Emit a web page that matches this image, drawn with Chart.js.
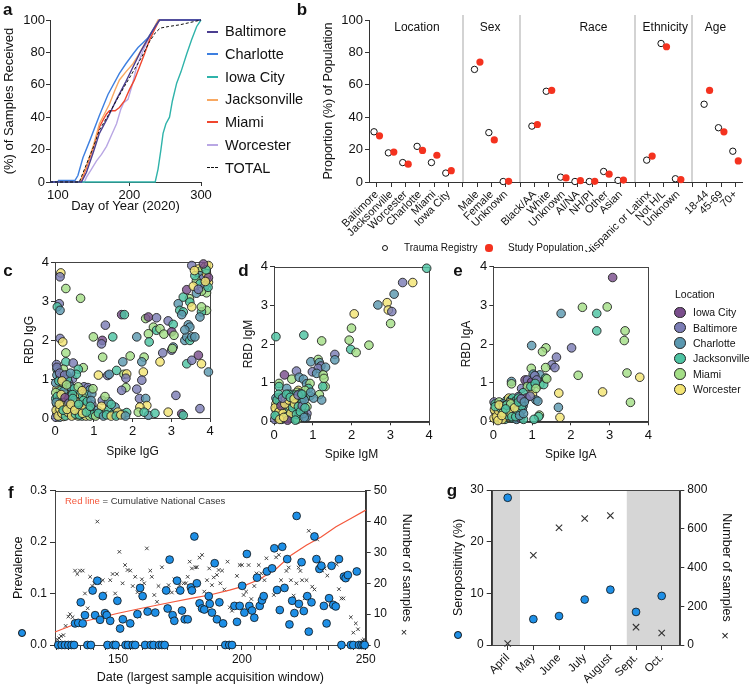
<!DOCTYPE html>
<html>
<head>
<meta charset="utf-8">
<script src="https://cdn.jsdelivr.net/npm/chart.js@4.4.1/dist/chart.umd.min.js"></script>
<style>
  body { margin: 0; background: #fff; }
  #fig { position: relative; width: 751px; height: 689px; overflow: hidden;
         font-family: "Liberation Sans", Arial, Helvetica, sans-serif; color: #111; }
  #fig canvas { position: absolute; left: 0; top: 0; }
  .t { position: absolute; white-space: nowrap; line-height: 1; }
  .mk { position: absolute; box-sizing: border-box; border-radius: 50%; }
  .ln { position: absolute; height: 0; }
</style>
</head>
<body>
<div id="fig">
  <canvas id="chartA" width="751" height="689"></canvas>
  <canvas id="chartB" width="751" height="689"></canvas>
  <canvas id="chartC" width="751" height="689"></canvas>
  <canvas id="chartD" width="751" height="689"></canvas>
  <canvas id="chartE" width="751" height="689"></canvas>
  <canvas id="chartF" width="751" height="689"></canvas>
  <canvas id="chartG" width="751" height="689"></canvas>
</div>
<script>
// ---------- data ----------

// a: cumulative % of samples received, [day of year, percent]
const cities = ['Baltimore', 'Charlotte', 'Iowa City', 'Jacksonville', 'Miami', 'Worcester', 'TOTAL'];
const cityColors = ['#4b3e90', '#3d7fe0', '#2fb3aa', '#f8a862', '#f0462e', '#b9a7e4', '#111111'];
const baltimoreCum = [[89,0],[133,0],[140,6],[150,19],[158,30],[170,40],[182,51],[195,62],[205,71],[215,80],[228,90],[236,96],[242,100],[300,100]];
const charlotteCum = [[89,0],[100,0],[101,1],[124,1],[128,4],[135,15],[145,26],[158,41],[170,54],[186,67],[195,73],[205,79],[212,83],[219,86],[226,89],[233,94],[242,100],[300,100]];
const iowaCityCum = [[89,0],[236,0],[240,8],[244,20],[247,30],[251,36],[256,40],[260,50],[266,61],[272,68],[280,79],[287,88],[294,96],[300,100]];
const jacksonvilleCum = [[89,0],[131,0],[140,10],[150,23],[158,36],[165,42],[172,48],[180,57],[186,63],[195,68],[205,73],[212,78],[219,83.5],[226,89],[233,94],[240,100],[270,100]];
const miamiCum = [[89,0],[132,0],[140,9],[150,22],[158,34],[164,39],[168,42],[172,44],[180,44],[186,46],[193,50],[200,57],[207,63],[214,71],[221,79],[228,87.6],[235,94],[242,100],[270,100]];
const worcesterCum = [[89,0],[137,0],[140,3],[147,8],[154,13],[161,17],[168,22],[175,29],[182,36],[188,45],[192,49],[198,51],[204,60],[210,71],[217,79],[224,86],[231,92],[238,98],[242,100],[300,100]];
const totalCum = [[89,0],[130,0],[140,11],[150,22],[158,32],[170,41],[182,50.5],[193,59],[205,68],[217,77],[228,86.6],[236,92],[243,95],[255,96],[270,97],[285,98.5],[300,100]];
const dayTicks = [100, 200, 300];
const pctTicks = [0, 20, 40, 60, 80, 100];

// b: demographics, trauma registry vs study population (%)
const bLabels = ['Baltimore','Jacksonville','Worcester','Charlotte','Miami','Iowa City','',
  'Male','Female','Unknown','',
  'Black/AA','White','Unknown','AI/NA','NH/PI','Other','Asian','',
  'Hispanic or Latinx','Not H/L','Unknown','',
  '18-44','45-69','70+'];
const traumaRegistry = [31,18,12,22,12,5.5,null, 69.5,30.5,0.3,null, 34.5,56,3,0.3,0.3,6.5,1,null, 13.5,85.5,2,null, 48,33.5,19];
const studyPopulation = [28.5,18.5,11,19.5,16.5,7,null, 74,26,0.4,null, 35.5,56.5,2.5,0.8,0.4,4.8,1.2,null, 16,83.5,1.5,null, 56.5,31,13];
const bGroups = ['Location', 'Sex', 'Race', 'Ethnicity', 'Age'];
const bGroupCentres = [2.8, 7.9, 15.1, 20.1, 23.6];
const bDividers = [6, 10, 18, 22];
const bPctTicks = [0, 20, 40, 60, 80, 100];

// c-e: spike vs RBD antibody levels, [spike, rbd, location index]
const locations = ['Iowa City', 'Baltimore', 'Charlotte', 'Jacksonville', 'Miami', 'Worcester'];
const locationColors = ['#7a4e8c', '#7b7db5', '#5b98b0', '#4dc3a2', '#a3de86', '#f3e473'];
const igTicks = [0, 1, 2, 3, 4];
const spikeRbdIgG = [
  [0.15,3.72,5],[0.13,3.62,1],[0.28,3.32,4],[0.11,2.93,1],[0.06,2.85,3],[0.13,2.76,2],[0.66,3.07,4],[0.13,2.04,1],[0.2,1.95,5],
  [0.28,1.67,4],[0.28,1.44,3],[0.47,1.41,1],[0.73,1.29,4],[0.04,1.37,1],[0.99,2.08,4],[1.22,1.99,0],[1.2,1.9,1],[1.3,2.38,1],
  [1.49,2.08,3],[1.23,1.56,4],[1.36,1.09,1],[1.4,1.12,2],[1.12,1.1,5],[1.59,1.22,3],
  [1.72,2.65,0],[1.79,2.65,3],[1.75,1.44,2],[1.78,1.12,4],[1.85,1.13,5],[1.83,1.02,1],[1.94,1.59,4],[1.83,0.78,4],[1.72,0.71,1],
  [2.11,2.08,2],[2.3,1.56,4],[2.24,1.44,2],[2.28,1.18,5],[2.24,0.97,1],[2.11,0.74,1],[2.18,0.5,1],[2.34,0.5,2],[2.37,0.32,5],
  [2.19,0.28,5],[2.15,0.15,4],[2.41,0.07,2],[2.3,0.15,3],[2.58,0.12,3],
  [2.34,2.55,4],[2.41,2.59,0],[2.54,2.33,4],[2.62,2.25,3],[2.41,2.16,4],[2.43,1.95,3],[2.62,2.57,1],[2.71,2.29,4],[2.81,2.15,4],
  [2.78,1.67,1],[2.92,2.49,1],[3.05,2.4,3],[3.01,2.21,0],[3.07,2.12,4],[3.01,1.74,1],[3.05,1.82,2],[3.03,1.78,4],[2.71,1.44,5],
  [2.92,0.15,5],[3.12,0.58,1],
  [3.18,2.93,2],[3.22,2.76,3],[3.31,2.72,3],[3.27,2.65,2],[3.35,1.99,2],[3.4,2.08,2],[3.48,1.99,3],[3.44,2.39,2],[3.48,2.33,2],
  [3.35,2.26,2],[3.53,2.08,2],[3.4,1.39,3],[3.53,1.48,1],[3.61,2.08,2],[3.47,3.06,4],[3.31,3.1,3],[3.48,2.97,3],[3.53,2.85,5],
  [3.7,1.61,0],[3.78,1.39,5],[3.74,0.24,1],[3.96,1.18,2],[3.91,2.76,4],[3.78,2.72,3],[3.74,2.59,2],[3.78,2.85,4],[3.91,3.21,4],
  [3.53,3.91,1],[3.4,3.29,0],[3.27,0.11,0],[3.31,0.07,3],
  [3.7,3.82,5],[3.78,3.78,4],[3.87,3.87,5],[3.96,3.91,5],[3.74,3.65,2],[3.82,3.57,1],[3.91,3.7,5],[3.65,3.52,4],[3.74,3.44,3],
  [3.96,3.48,5],[3.87,3.38,1],[3.78,3.25,4],[3.65,3.2,2],[3.57,3.38,5],[3.61,3.65,3],[3.96,3.6,0],[3.9,3.8,3],[3.83,3.95,0],
  [3.7,3.3,1],[3.95,3.35,3],[3.6,3.78,5],[3.88,3.5,5],
  [1.03,0.1,5],[1.16,0.1,5],[1.29,0.14,4],[1.38,0.2,3],[1.5,0.1,3],[1.63,0.1,1],[1.76,0.1,4],[1.85,0.14,3],[1.22,0.45,1],
  [1.38,0.42,2],[1.29,0.55,4],[1.55,0.28,2],[1.1,0.2,2],[0.95,0.35,1],[1.2,0.3,5],[1.62,0.15,5],[1.45,0.35,3],
  [0.05,1.25,3],[0.1,1.2,2],[0.22,1.25,4],[0.05,1.1,2],[0.15,1.05,1],[0.3,1.1,3],[0.45,1.0,1],[0.6,1.25,3],[0.55,1.12,3],
  [0.75,0.8,1],[0.85,0.78,1],[0.9,0.72,2],[0.8,0.6,3],[0.95,0.62,2],[0.98,0.75,4],[0.7,0.55,4],[0.6,0.6,3],[0.5,0.55,5],
  [0.4,0.6,5],[0.35,0.7,3],[0.25,0.8,5],[0.15,0.85,4],[0.05,0.75,5],[0.1,0.6,5],[0.2,0.5,3],[0.3,0.45,5],[0.45,0.4,3],
  [0.55,0.35,5],[0.65,0.3,4],[0.75,0.35,3],[0.85,0.3,1],[0.95,0.15,2],[0.85,0.12,5],[0.75,0.15,5],[0.65,0.12,3],[0.55,0.15,5],
  [0.45,0.18,5],[0.35,0.2,5],[0.25,0.25,3],[0.15,0.3,5],[0.05,0.35,5],[0.05,0.1,5],[0.1,0.15,3],[0.2,0.1,0],[0.3,0.08,5],
  [0.4,0.1,3],[0.5,0.08,5],[0.6,0.05,4],[0.7,0.05,3],[0.8,0.05,5],[0.9,0.05,4],[0.02,0.02,1],[0.12,0.02,2],[0.22,0.04,5],
  [0.32,0.3,3],[0.42,0.28,5],[0.52,0.25,3],[0.62,0.22,5],[0.02,0.5,3],[0.08,0.45,5],[0.18,0.4,5],[0.28,0.35,3],[0.38,0.45,5],
  [0.02,0.9,2],[0.1,0.95,3],[0.2,1.0,1],[0.35,0.9,1],[0.4,0.8,2],[0.5,0.75,3],[0.6,0.8,4],[0.7,0.7,5],[0.15,0.7,3],
  [0.28,0.6,5],[0.08,0.25,3],[0.35,0.55,0],[0.12,0.55,1],[0.25,0.15,5],[0.45,0.6,3],[0.02,0.65,4],[0.22,0.68,2],[0.5,0.45,1],
  [0.32,1.0,3],
  [0.03,0.2,5],[0.08,0.05,5],[0.13,0.22,5],[0.18,0.12,5],[0.23,0.32,5],[0.27,0.05,3],[0.33,0.15,5],[0.38,0.28,3],[0.43,0.05,5],
  [0.48,0.3,5],[0.53,0.1,3],[0.58,0.4,5],[0.63,0.08,3],[0.68,0.2,5],[0.73,0.45,3],[0.78,0.25,5],[0.83,0.42,3],[0.88,0.2,4],
  [0.93,0.45,2],[0.97,0.08,3],[0.06,0.55,3],[0.16,0.6,5],[0.26,0.52,0],[0.36,0.38,1],[0.46,0.5,3],[0.03,0.4,2],[0.11,0.35,5],
  [0.21,0.2,3],[0.31,0.22,5],[0.41,0.35,5],[0.51,0.2,5],[0.61,0.35,3],[0.71,0.12,5],[0.81,0.15,3],[0.91,0.3,3],[1.05,0.05,4],
  [1.12,0.12,3],[1.25,0.05,2],[1.33,0.08,3],[1.45,0.05,5],[1.58,0.05,3],[1.7,0.08,5],[1.82,0.05,2],[0.05,1.3,1],[0.12,1.15,1],
  [0.25,1.1,1],[0.4,1.15,2],[0.18,0.95,5],[0.3,0.85,4]
];
const spikeRbdIgM = [
  [3.94,3.96,3],[3.32,3.59,1],[3.58,3.59,5],[3.1,3.29,2],[2.68,3.01,2],[2.92,3.07,5],[2.95,2.88,5],[3.04,2.84,1],[3.01,2.53,4],
  [2.07,2.78,5],[2.0,2.41,4],[1.94,2.1,4],[1.98,1.86,3],[2.12,1.78,4],[2.45,1.97,4],[0.05,2.19,3],[0.77,2.23,3],[1.23,2.08,4],
  [1.57,1.73,1],[1.57,1.59,2],[0.95,1.54,2],[1.14,1.6,4],[1.17,1.52,2],[1.21,1.43,1],[1.14,1.37,1],[1.33,1.4,2],[0.99,1.28,1],
  [1.1,1.24,2],[1.27,1.2,4],[1.29,1.11,4],[1.32,0.9,4],[1.26,0.9,3],[1.17,0.69,4],[1.23,0.55,2],[0.93,0.66,3],[1.02,0.6,2],
  [0.27,1.2,0],[0.58,1.3,1],[0.46,1.09,4],[0.65,1.14,2],[0.76,1.09,2],[0.84,0.97,2],[0.93,0.98,4],[0.89,0.85,3],[0.13,0.98,4],
  [0.13,0.9,3],[0.33,0.85,2],[0.63,0.8,5],[0.85,0.38,4],[0.85,0.2,1],[0.83,0.1,2],[0.75,0.6,2],[0.8,0.8,4],[0.95,0.75,2],
  [0.05,0.6,2],[0.1,0.5,3],[0.15,0.62,1],[0.2,0.45,5],[0.25,0.55,3],[0.3,0.4,5],[0.35,0.6,2],[0.4,0.5,5],[0.45,0.65,3],
  [0.5,0.7,3],[0.55,0.55,5],[0.6,0.75,4],[0.65,0.45,2],[0.7,0.6,1],[0.05,0.3,5],[0.1,0.2,3],[0.15,0.35,5],[0.2,0.15,0],
  [0.25,0.3,5],[0.3,0.2,3],[0.35,0.35,5],[0.4,0.25,3],[0.45,0.3,5],[0.5,0.4,5],[0.55,0.2,4],[0.6,0.3,3],[0.65,0.15,2],
  [0.7,0.35,3],[0.75,0.2,2],[0.02,0.05,1],[0.1,0.08,5],[0.2,0.05,3],[0.3,0.08,5],[0.4,0.1,5],[0.5,0.12,3],[0.6,0.05,4],
  [0.05,0.45,5],[0.15,0.5,3],[0.25,0.42,5],[0.35,0.48,3],[0.45,0.45,1],[0.55,0.68,3],[0.62,0.6,3],[0.68,0.72,2],[0.12,0.4,4],
  [0.22,0.25,5],[0.32,0.3,3],[0.42,0.38,5],[0.28,0.65,2],[0.38,0.7,3],[0.48,0.52,5],[0.58,0.42,0],[0.08,0.15,3],[0.18,0.28,5],
  [0.3,0.55,5],[0.5,0.3,3],[0.65,0.55,3],[0.72,0.48,3],
  [0.03,0.35,5],[0.08,0.55,3],[0.13,0.25,5],[0.18,0.4,0],[0.23,0.2,5],[0.28,0.45,5],[0.33,0.12,3],[0.38,0.55,5],[0.43,0.2,5],
  [0.48,0.35,3],[0.53,0.45,5],[0.58,0.18,3],[0.63,0.38,3],[0.68,0.25,3],[0.73,0.4,1],[0.78,0.55,2],[0.03,0.15,3],[0.12,0.7,3],
  [0.22,0.6,1],[0.32,0.7,3],[0.42,0.62,3],[0.52,0.58,5],[0.62,0.68,1],[0.72,0.7,3],[0.8,0.35,3],[0.78,0.1,2],[0.15,0.05,5],
  [0.35,0.03,0],[0.55,0.03,3],[0.25,0.1,5]
];
const spikeRbdIgA = [
  [3.08,3.72,0],[2.3,2.95,4],[2.94,2.96,4],[1.75,2.79,2],[2.67,2.79,3],[2.67,2.34,3],[3.4,2.34,4],[3.38,2.09,4],[0.99,1.96,2],
  [2.02,1.9,1],[1.36,1.9,4],[1.27,1.8,4],[1.63,1.66,1],[1.51,1.46,1],[1.59,1.39,1],[1.35,1.39,4],[0.98,1.37,4],[2.19,1.19,4],
  [3.45,1.25,4],[3.78,1.14,5],[2.82,0.76,5],[1.69,0.73,5],[3.54,0.49,4],[1.68,0.36,2],[1.72,0.1,5],[1.19,0.16,4],[1.17,0.12,3],
  [1.05,0.05,3],[1.01,0.71,5],[1.1,0.55,2],[1.15,0.52,2],[1.2,1.2,2],[1.2,0.95,4],[1.3,0.95,3],[1.35,1.12,3],[1.38,1.1,4],
  [0.82,1.07,0],[0.88,1.07,1],[0.99,1.02,0],[1.03,1.22,2],[1.07,1.18,1],[1.12,1.07,1],[0.73,0.85,1],[0.88,0.9,4],[0.97,0.9,3],
  [1.08,0.98,3],[1.1,0.85,4],[0.77,0.74,3],[0.65,0.64,1],[0.73,0.57,2],[0.77,0.4,2],[0.58,0.38,3],[0.47,1.03,2],[0.47,0.97,4],
  [0.85,0.6,0],[0.95,0.65,1],
  [0.02,0.5,1],[0.05,0.45,3],[0.1,0.4,4],[0.15,0.35,3],[0.2,0.42,5],[0.25,0.3,3],[0.3,0.38,5],[0.35,0.55,3],[0.4,0.6,5],
  [0.45,0.55,3],[0.5,0.6,3],[0.55,0.5,1],[0.6,0.55,3],[0.65,0.6,3],[0.7,0.5,2],[0.05,0.25,5],[0.1,0.2,3],[0.15,0.15,5],
  [0.2,0.25,5],[0.25,0.15,3],[0.3,0.2,5],[0.35,0.3,3],[0.4,0.25,4],[0.45,0.35,3],[0.5,0.3,5],[0.55,0.25,3],[0.6,0.2,2],
  [0.65,0.35,3],[0.7,0.25,3],[0.75,0.3,2],[0.02,0.08,5],[0.1,0.05,3],[0.2,0.08,5],[0.3,0.05,3],[0.4,0.1,5],[0.5,0.08,3],
  [0.6,0.05,2],[0.7,0.08,0],[0.78,0.05,3],[0.15,0.5,4],[0.25,0.45,2],[0.08,0.3,5],[0.18,0.2,1],[0.28,0.28,5],[0.38,0.42,3],
  [0.48,0.45,3],[0.58,0.4,3],[0.68,0.45,1],[0.12,0.12,5],[0.32,0.12,5],[0.42,0.48,5],
  [0.03,0.3,5],[0.08,0.12,5],[0.13,0.28,5],[0.18,0.35,3],[0.23,0.05,5],[0.28,0.4,5],[0.33,0.25,5],[0.38,0.15,3],[0.43,0.22,5],
  [0.48,0.12,3],[0.53,0.4,3],[0.58,0.12,3],[0.63,0.28,3],[0.68,0.15,2],[0.73,0.4,3],[0.78,0.2,2],[0.05,0.38,3],[0.15,0.42,5],
  [0.25,0.22,4],[0.35,0.42,3],[0.45,0.45,4],[0.55,0.35,5],[0.65,0.5,3],[0.72,0.58,1],[0.8,0.5,2],[0.12,0.02,5],[0.22,0.15,5],
  [0.32,0.32,3]
];

// f: daily prevalence [day, prevalence], samples [day, n], national cases (scaled to right axis)
const prevalence = [
  [125.8,0],[127.2,0],[128.5,0],[129.9,0],[131.2,0],[132.2,0],
  [132.6,0.042],[133.9,0.043],[134.9,0.083],[135.7,0.042],[136.6,0.058],[137.6,0],[139,0],
  [139.7,0.106],[140.7,0.058],[141.6,0.125],[142.7,0.049],[143.8,0.095],[144.7,0.062],[145.4,0.058],
  [145.7,0],[146.8,0.047],[148.1,0],[149,0],[149.7,0.086],[150.8,0.032],[151.9,0.05],
  [153,0],[154,0],[154.9,0.042],[155.9,0],[156.9,0],[157.8,0.06],[158.9,0.111],[159.9,0.095],
  [160.9,0],[161.9,0.065],[163.2,0],[164.3,0],[165,0.063],[166.6,0],[167.7,0],[168.8,0],
  [169.4,0.106],[170,0.071],[170.8,0.166],[172,0.058],[172.7,0.047],[173.8,0.125],[175.1,0.106],[175.8,0.067],
  [176.9,0.05],[178.1,0.05],[179.4,0.112],[179.8,0.106],[180.8,0.211],[181.8,0.12],[182.9,0.081],[183.9,0.071],
  [184.8,0.069],[186.6,0.095],[187,0.08],[187.9,0.063],[189,0.159],[189.9,0.05],[190.9,0.083],[192.4,0.042],
  [193.3,0],[194.9,0],[196,0],
  [197,0.076],[198,0.045],[199.1,0.076],[200.1,0.115],[201,0.063],[202,0.177],[203,0.076],[204.1,0.067],[205,0.053],
  [206.1,0.131],[207.2,0.076],[208.1,0.087],[208.8,0.095],[210.1,0.143],[212.2,0.149],[213.1,0.188],[214.2,0.107],
  [215.3,0.068],[216.3,0.191],[217.2,0.111],[218.3,0.167],[219.2,0.04],[220.3,0.086],[221.2,0.062],[222.1,0.251],
  [223,0.08],[224.1,0.161],[225,0.066],[226.4,0.095],[227,0.026],[228.1,0.083],[229.3,0.211],[230.1,0.167],
  [231.3,0.148],[232.1,0.154],[233.1,0.076],[234.2,0.042],[235.2,0.091],[236.2,0.154],[236.9,0.078],[237.9,0.075],
  [239.2,0.167],[240.2,0],[241.2,0.133],[241.9,0.13],[242.8,0.136],[244,0],[245,0],[246.4,0.143],[247.3,0],
  [248.3,0],[249.1,0],[249.6,0]
];
const samplesPerDay = [
  [125.4,1.8],[126.2,2.2],[126.9,2.9],[127.9,3.2],[128.8,6.2],[129.9,9.2],[130.6,10],[131.6,9],[132.6,24.1],[133.5,23],
  [134.6,24.1],[135.7,24.1],[136.6,16.7],[137.7,11.9],[138.7,22.1],[139.6,19.1],[140.4,20],[141.6,40],[142.7,20],[143.8,21],
  [144.7,16.7],[146.8,21],[147.8,23],[148.8,16.7],[149.5,23],[150.5,30.2],[151.8,20],[152.8,25.9],[153.8,24.3],[154.9,24.1],
  [155.9,19.1],[156.9,22.1],[157.8,17.1],[158.6,9.2],[159.6,21.3],[160.5,20],[161.6,31.3],[163,24.1],[163.6,22.1],[164.6,16.2],
  [165.7,14],[166.3,19.1],[167.7,25.2],[169.3,18.4],[170.4,19.4],[171.7,17],[172.7,21.3],[173.8,17.8],[174.8,19.4],[176.5,20],
  [177.4,20],[178.1,22.1],[178.9,27],[179.8,24.8],[181.2,25.2],[181.8,25.2],[182.9,28.3],[183.9,29.2],[184.8,17.3],[185.9,21],
  [186.8,24.8],[187.9,19.4],[188.6,21.9],[189.9,22.7],[190.6,24.3],
  [191.3,20],[192,24.1],[192.9,18],[194.2,27],[195.1,12.2],[196,11.1],[198,22.4],[199.1,25.9],[200,25.9],[200.7,16.2],
  [201.7,17.3],[202.7,25.9],[203.8,14.9],[205,19.1],[205.9,23.2],[206.8,25.9],[207.8,23.2],[209.1,21],[209.9,28.1],[211.5,24.3],
  [212.9,16.2],[213.8,28.4],[214.9,29.2],[215.8,21],[218,24],[218.9,25.1],[219.8,21],[220.9,16],[222,20],[222.9,25.1],
  [223.6,24],[224.3,21],[225.3,15.1],[226.1,21],[227,37],[228.4,18.9],[229.3,18],[230.4,34.2],[231.5,26.7],[232.5,24.1],
  [233.4,24.8],[234.5,22.5],[235.8,13.2],[236.5,13.2],[238.3,26.1],[239.2,18.1],[240.2,15.1],[241,15.1],[244,9],[245,4],
  [246,7],[246.9,5.1],[248,0.8],[248.7,1.4],[249.3,1.8],[250,0.8]
];
const nationalCases = [[124.5,4.2],[134,7.2],[150,10.3],[160,12],[170,13.6],[180,15.2],[187,16.2],[195,17.8],[200,18.9],
  [207,21.2],[214,24.8],[220,29.2],[226,32.3],[232,35],[238,38.3],[244,41],[250,43.7]];
const fDayTicks = [125,130,135,140,145,150,155,160,165,170,175,180,185,190,195,200,205,210,215,220,225,230,235,240,245,250];
const fDayLabels = [150, 200, 250];
const fPrevTicks = [0, 0.1, 0.2, 0.3];
const fSampleTicks = [0, 10, 20, 30, 40, 50];

// g: monthly seropositivity (%) and number of samples
const months = ['April', 'May', 'June', 'July', 'August', 'Sept.', 'Oct.'];
const seropositivity = [28.5, 5.0, 5.6, 8.8, 10.7, 6.4, 9.5];
const monthSamples = [8, 463, 605, 653, 668, 92, 62];
const shadedMonths = [[-0.7, 0.48], [4.64, 6.8]];
const gSeroTicks = [0, 10, 20, 30];
const gSampleTicks = [0, 200, 400, 600, 800];

// ---------- helpers ----------
const W = 751, H = 689;
const fig = document.getElementById('fig');
Chart.defaults.font.family = '"Liberation Sans", Arial, Helvetica, sans-serif';
Chart.defaults.color = '#111';
Chart.defaults.animation = false;
Chart.defaults.events = [];
Chart.defaults.plugins.legend.display = false;
Chart.defaults.plugins.tooltip.enabled = false;

// y is the vertical middle of capital letters
function addText(s, x, y, size, opts = {}) {
  const el = document.createElement('div');
  el.className = 't';
  el.innerHTML = s;
  el.style.fontSize = size + 'px';
  el.style.left = x + 'px';
  el.style.top = (y - 0.49 * size) + 'px';
  const shift = opts.align === 'center' ? '-50%' : opts.align === 'right' ? '-100%' : '0';
  el.style.transform = 'translateX(' + shift + ')';
  if (opts.bold) el.style.fontWeight = 'bold';
  if (opts.color) el.style.color = opts.color;
  fig.appendChild(el);
}
function addDot(x, y, r, fill, stroke, bw) {
  const el = document.createElement('div');
  el.className = 'mk';
  el.style.left = (x - r) + 'px';
  el.style.top = (y - r) + 'px';
  el.style.width = el.style.height = (2 * r) + 'px';
  el.style.background = fill;
  if (stroke) el.style.border = (bw || 1) + 'px solid ' + stroke;
  fig.appendChild(el);
}
function addLine(x1, x2, y, color, width, dashed) {
  const el = document.createElement('div');
  el.className = 'ln';
  el.style.left = x1 + 'px';
  el.style.width = (x2 - x1) + 'px';
  el.style.top = (y - width / 2) + 'px';
  el.style.borderTop = width + 'px ' + (dashed ? 'dashed ' : 'solid ') + color;
  fig.appendChild(el);
}
function withAlpha(hex, a) {
  const n = parseInt(hex.slice(1), 16);
  return 'rgba(' + (n >> 16) + ',' + ((n >> 8) & 255) + ',' + (n & 255) + ',' + a + ')';
}

function fixSize(px) {
  return scale => { if (scale.isHorizontal()) scale.height = px; else scale.width = px; };
}
function axis(o) {
  return {
    type: 'linear',
    position: o.position,
    min: o.min,
    max: o.max,
    border: { display: true, color: '#333', width: 1 },
    grid: { drawOnChartArea: false, drawTicks: true, tickLength: o.tick || 5, tickColor: '#333', tickWidth: 1 },
    ticks: Object.assign({ color: '#111', padding: o.pad == null ? 2 : o.pad, font: { size: o.font || 12 },
      autoSkip: false, maxRotation: 0, minRotation: 0 }, o.ticks || {}),
    title: o.title ? { display: true, text: o.title, padding: 0, color: '#111', font: { size: o.titleSize || 12.5 } }
                   : { display: false },
    afterBuildTicks: scale => { scale.ticks = o.values.map(v => ({ value: v })); },
    afterFit: fixSize(o.size)
  };
}
// widths of the axis boxes so that titles land where wanted
const leftSize = (plotLeft, titleX, fs) => plotLeft - titleX + fs * 0.6;
const rightSize = (plotRight, titleX, fs) => titleX + fs * 0.6 - plotRight;
const bottomSize = (plotBottom, titleY, fs) => titleY + fs * 0.6 - plotBottom;
function padding(plot, l, b, r) {
  return { left: plot[0] - l, top: plot[1], right: W - plot[2] - (r || 0), bottom: H - plot[3] - b };
}
const pairs = arr => arr.map(p => ({ x: p[0], y: p[1] }));

const framePlugin = {
  id: 'frame',
  beforeDatasetsDraw(chart) {
    const a = chart.chartArea, ctx = chart.ctx;
    ctx.save();
    ctx.strokeStyle = '#444';
    ctx.lineWidth = 1;
    ctx.strokeRect(Math.round(a.left) + 0.5, Math.round(a.top) + 0.5, Math.round(a.right - a.left), Math.round(a.bottom - a.top));
    ctx.restore();
  }
};

// ---------- a ----------
const plotA = [50, 20, 201, 182];
const aSeries = [totalCum, baltimoreCum, charlotteCum, iowaCityCum, jacksonvilleCum, miamiCum, worcesterCum];
const aIndex = [6, 0, 1, 2, 3, 4, 5];
new Chart(document.getElementById('chartA'), {
  type: 'line',
  data: {
    datasets: aSeries.map((s, k) => ({
      label: cities[aIndex[k]],
      data: pairs(s),
      borderColor: cityColors[aIndex[k]],
      borderWidth: aIndex[k] === 6 ? 1 : 1.4,
      borderDash: aIndex[k] === 6 ? [3, 2] : [],
      pointRadius: 0,
      tension: 0,
      clip: false
    }))
  },
  options: {
    responsive: false,
    layout: { padding: padding(plotA, leftSize(50, 9, 13), bottomSize(182, 206, 13)) },
    scales: {
      x: axis({ position: 'bottom', min: 89, max: 300, values: dayTicks, size: bottomSize(182, 206, 13),
                title: 'Day of Year (2020)', titleSize: 13, font: 13, tick: 4 }),
      y: axis({ position: 'left', min: 0, max: 100, values: pctTicks, size: leftSize(50, 9, 13),
                title: '(%) of Samples Received', titleSize: 13, font: 13, tick: 4, pad: 1 })
    }
  }
});
cities.forEach((c, i) => {
  const y = 31.5 + 22.7 * i;
  addLine(207, 218, y, cityColors[i], i === 6 ? 1 : 2, i === 6);
  addText(c, 225, y, 14.5);
});

// ---------- b ----------
const plotB = [369, 20, 742, 182];
const bGroupPlugin = {
  id: 'bGroups',
  beforeDraw(chart) {
    const x = chart.scales.x, a = chart.chartArea, ctx = chart.ctx;
    ctx.save();
    ctx.strokeStyle = '#c4c4c4';
    ctx.lineWidth = 1.5;
    bDividers.forEach(d => {
      const px = Math.round(x.getPixelForValue(d));
      ctx.beginPath();
      ctx.moveTo(px, a.top - 5);
      ctx.lineTo(px, a.bottom);
      ctx.stroke();
    });
    ctx.fillStyle = '#111';
    ctx.font = '12px "Liberation Sans", Arial, sans-serif';
    ctx.textAlign = 'center';
    ctx.textBaseline = 'middle';
    bGroups.forEach((g, i) => ctx.fillText(g, x.getPixelForValue(bGroupCentres[i]), a.top + 7.5));
    ctx.restore();
  }
};
const toSlots = (vals, off) => vals.map((v, i) => v == null ? null : { x: i + off, y: v }).filter(Boolean);
new Chart(document.getElementById('chartB'), {
  type: 'scatter',
  data: {
    datasets: [
      { label: 'Study Population', data: toSlots(studyPopulation, 0.19), pointRadius: 3.6,
        backgroundColor: '#f4321f', borderWidth: 0, clip: false },
      { label: 'Trauma Registry', data: toSlots(traumaRegistry, -0.19), pointRadius: 3.2,
        backgroundColor: '#ffffff', borderColor: '#111', borderWidth: 1, clip: false }
    ]
  },
  options: {
    responsive: false,
    layout: { padding: padding(plotB, leftSize(369, 329, 12.5), 70) },
    scales: {
      x: axis({ position: 'bottom', min: -0.54, max: 25.45, values: bLabels.map((_, i) => i), size: 70,
                font: 11, tick: 5, pad: 1,
                ticks: { minRotation: 45, maxRotation: 45, callback: v => bLabels[v] } }),
      y: axis({ position: 'left', min: 0, max: 100, values: bPctTicks, size: leftSize(369, 329, 12.5),
                title: 'Proportion (%) of Population', titleSize: 12.5, font: 13, tick: 4, pad: 2 })
    }
  },
  plugins: [bGroupPlugin]
});
addDot(385, 248, 3.2, '#fff', '#111', 1);
addText('Trauma Registry', 404, 248, 10);
addDot(489, 248, 3.6, '#f4321f');
addText('Study Population', 508, 248, 10);

// ---------- c, d, e ----------
function igChart(id, plot, points, xTitle, yTitle, titleX, titleY) {
  new Chart(document.getElementById(id), {
    type: 'scatter',
    data: {
      datasets: [{
        data: points.map(p => ({ x: p[0], y: p[1], loc: p[2] })),
        pointRadius: 4.3,
        backgroundColor: ctx => withAlpha(locationColors[ctx.raw ? ctx.raw.loc : 0], 0.82),
        borderColor: '#222',
        borderWidth: 0.9,
        clip: false
      }]
    },
    options: {
      responsive: false,
      layout: { padding: padding(plot, leftSize(plot[0], titleX, 12), bottomSize(plot[3], titleY, 12)) },
      scales: {
        x: axis({ position: 'bottom', min: 0, max: 4, values: igTicks, size: bottomSize(plot[3], titleY, 12),
                  title: xTitle, titleSize: 12, font: 13, tick: 4, pad: 2 }),
        y: axis({ position: 'left', min: 0, max: 4, values: igTicks, size: leftSize(plot[0], titleX, 12),
                  title: yTitle, titleSize: 12, font: 13, tick: 4, pad: 2 })
      }
    },
    plugins: [framePlugin]
  });
}
igChart('chartC', [55, 262, 210, 418], spikeRbdIgG, 'Spike IgG', 'RBD IgG', 30, 452);
igChart('chartD', [274, 266.7, 429, 421.3], spikeRbdIgM, 'Spike IgM', 'RBD IgM', 249, 455);
igChart('chartE', [493.3, 266.7, 648.3, 421.3], spikeRbdIgA, 'Spike IgA', 'RBD IgA', 466.5, 455);
addText('Location', 675, 294, 10.5);
locations.forEach((l, i) => {
  const y = 312.3 + 15.4 * i;
  addDot(680, y, 5.8, locationColors[i], '#222', 1);
  addText(l, 693, y, 10.5);
});

// ---------- f ----------
const plotF = [55, 490.7, 365.7, 645];
new Chart(document.getElementById('chartF'), {
  type: 'scatter',
  data: {
    datasets: [
      { label: 'Prevalence', data: pairs(prevalence), yAxisID: 'y', pointRadius: 3.9,
        backgroundColor: '#1e8fe6', borderColor: '#111', borderWidth: 0.8, clip: false },
      { label: 'Cumulative National Cases', data: pairs(nationalCases), yAxisID: 'y2', showLine: true,
        pointRadius: 0, borderColor: '#f4583c', borderWidth: 1.2, clip: false },
      { label: 'Number of samples', data: pairs(samplesPerDay), yAxisID: 'y2', pointStyle: 'crossRot',
        pointRadius: 2.5, borderColor: '#333', borderWidth: 0.9, clip: false }
    ]
  },
  options: {
    responsive: false,
    layout: { padding: padding(plotF, leftSize(55, 19, 12.5), bottomSize(645, 678, 12.5), rightSize(365.7, 406.7, 12.5)) },
    scales: {
      x: axis({ position: 'bottom', min: 124.5, max: 250, values: fDayTicks, size: bottomSize(645, 678, 12.5),
                title: 'Date (largest sample acquisition window)', titleSize: 12.5, font: 12, tick: 5, pad: 2,
                ticks: { callback: v => fDayLabels.includes(v) ? String(v) : '' } }),
      y: axis({ position: 'left', min: 0, max: 0.3, values: fPrevTicks, size: leftSize(55, 19, 12.5),
                title: 'Prevalence', titleSize: 12.5, font: 12, tick: 5, pad: 3,
                ticks: { callback: v => v.toFixed(1) } }),
      y2: axis({ position: 'right', min: 0, max: 50, values: fSampleTicks, size: rightSize(365.7, 406.7, 12.5),
                 title: 'Number of samples', titleSize: 12.5, font: 12, tick: 5, pad: 3 })
    }
  },
  plugins: [framePlugin]
});
addText('<span style="color:#f4583c">Red line</span> = Cumulative National Cases', 65, 501, 9.5, { color: '#333' });
addDot(22, 632.7, 3.9, '#1e8fe6', '#111', 0.8);
addText('×', 404, 632.7, 11, { align: 'center' });

// ---------- g ----------
const plotG = [491.7, 490, 679.3, 645];
const shadePlugin = {
  id: 'shade',
  beforeDraw(chart) {
    const x = chart.scales.x, a = chart.chartArea, ctx = chart.ctx;
    ctx.save();
    ctx.fillStyle = '#d6d6d6';
    shadedMonths.forEach(([from, to]) => {
      const x1 = Math.max(a.left, x.getPixelForValue(from));
      const x2 = Math.min(a.right, x.getPixelForValue(to));
      ctx.fillRect(x1, a.top, x2 - x1, a.bottom - a.top);
    });
    ctx.restore();
  }
};
new Chart(document.getElementById('chartG'), {
  type: 'scatter',
  data: {
    datasets: [
      { label: 'Seropositivity', data: seropositivity.map((v, i) => ({ x: i, y: v })), yAxisID: 'y',
        pointRadius: 3.9, backgroundColor: '#1e8fe6', borderColor: '#111', borderWidth: 0.8, clip: false },
      { label: 'Number of samples', data: monthSamples.map((v, i) => ({ x: i, y: v })), yAxisID: 'y2',
        pointStyle: 'crossRot', pointRadius: 4.5, borderColor: '#333', borderWidth: 1.1, clip: false }
    ]
  },
  options: {
    responsive: false,
    layout: { padding: padding(plotG, leftSize(491.7, 458.3, 12.5), 40, rightSize(679.3, 726.7, 12.5)) },
    scales: {
      x: axis({ position: 'bottom', min: -0.623, max: 6.686, values: months.map((_, i) => i), size: 40,
                font: 11.5, tick: 5, pad: 1,
                ticks: { minRotation: 45, maxRotation: 45, callback: v => months[v] } }),
      y: axis({ position: 'left', min: 0, max: 30, values: gSeroTicks, size: leftSize(491.7, 458.3, 12.5),
                title: 'Seropositivity (%)', titleSize: 12.5, font: 12, tick: 5, pad: 3 }),
      y2: axis({ position: 'right', min: 0, max: 800, values: gSampleTicks, size: rightSize(679.3, 726.7, 12.5),
                 title: 'Number of samples', titleSize: 12.5, font: 12, tick: 5, pad: 3 })
    }
  },
  plugins: [shadePlugin, framePlugin]
});
addDot(458.3, 635, 3.9, '#1e8fe6', '#111', 0.8);
addText('×', 725, 635, 13, { align: 'center' });

// ---------- panel letters ----------
[['a', 3, 8.9], ['b', 296.7, 8.9], ['c', 3.3, 270.6], ['d', 238.3, 270.6], ['e', 453.3, 270.6],
 ['f', 8, 492.2], ['g', 446.7, 489.9]].forEach(([s, x, y]) => addText(s, x, y, 17, { bold: true }));
</script>
</body>
</html>
